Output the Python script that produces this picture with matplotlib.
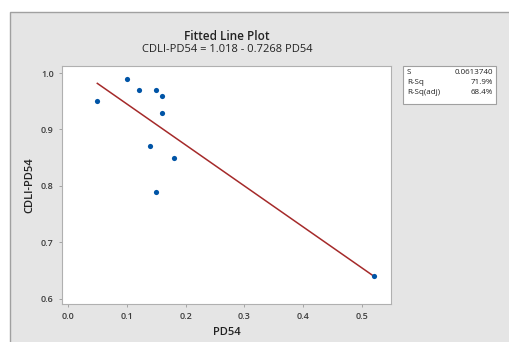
import matplotlib.pyplot as plt
from matplotlib.patches import Rectangle
import numpy as np

plt.rcParams['font.family'] = ['Open Sans', 'DejaVu Sans']

# data
pd54 = [0.05, 0.10, 0.12, 0.15, 0.16, 0.16, 0.14, 0.18, 0.15, 0.52]
cdli = [0.95, 0.99, 0.97, 0.97, 0.96, 0.93, 0.87, 0.85, 0.79, 0.64]
intercept = 1.018
slope = -0.7268
stat_names = ['S', 'R-Sq', 'R-Sq(adj)']
stat_values = ['0.0613740', '71.9%', '68.4%']

fig = plt.figure(figsize=(5.09, 3.42), dpi=100)
fig.patch.set_facecolor('white')

# grey panel behind everything
panel = Rectangle((10 / 509, -0.01), 1.0, 1 - 12 / 342 + 0.01, transform=fig.transFigure,
                  facecolor='#e5e5e5', edgecolor='#a0a0a0', linewidth=1.0, zorder=-10)
fig.patches.append(panel)

ax = fig.add_axes([62 / 509, 38 / 342, 329 / 509, 238 / 342])
ax.set_zorder(5)
ax.set_facecolor('white')

xl = np.array([min(pd54), max(pd54)])
ax.plot(xl, intercept + slope * xl, color='#a52a2a', linewidth=1.1, zorder=2)
ax.scatter(pd54, cdli, s=14, color='#0054a6', zorder=3, linewidths=0)

ax.set_xlim(-0.01, 0.549)
ax.set_ylim(0.591, 1.0124)
ax.set_xticks([0.0, 0.1, 0.2, 0.3, 0.4, 0.5])
ax.set_yticks([0.6, 0.7, 0.8, 0.9, 1.0])
ax.xaxis.set_major_formatter(plt.FormatStrFormatter('%.1f'))
ax.yaxis.set_major_formatter(plt.FormatStrFormatter('%.1f'))
ax.tick_params(labelsize=6.5, labelcolor='#3c3c3c', color='#999999', length=2.5, width=0.6)
for lbl in ax.get_xticklabels() + ax.get_yticklabels():
    lbl.set_fontweight('semibold')
for s in ax.spines.values():
    s.set_color('#b0b0b0')
    s.set_linewidth(0.8)

ax.set_xlabel('PD54', fontsize=8, fontweight='semibold', color='#222222', labelpad=4)
ax.set_ylabel('CDLI-PD54', fontsize=8, fontweight='semibold', color='#222222', labelpad=4)

fig.text(227 / 509, 1 - 36 / 342, 'Fitted Line Plot', ha='center', va='center',
         fontsize=8.5, fontweight='semibold', color='#222222')
fig.text(227 / 509, 1 - 49 / 342, 'CDLI-PD54 = 1.018 - 0.7268 PD54', ha='center', va='center',
         fontsize=8, color='#222222')

# stats box
box = Rectangle((403 / 509, 1 - 104 / 342), 93 / 509, 38 / 342, transform=fig.transFigure,
                facecolor='white', edgecolor='#a0a0a0', linewidth=0.8, zorder=1)
fig.patches.append(box)
for i, (n, v) in enumerate(zip(stat_names, stat_values)):
    y = 1 - (73 + i * 10) / 342
    fig.text(407 / 509, y, n, ha='left', va='center', fontsize=5.8, color='#222222')
    fig.text(493 / 509, y, v, ha='right', va='center', fontsize=5.8, color='#222222')

fig.savefig('out.png', dpi=100)
